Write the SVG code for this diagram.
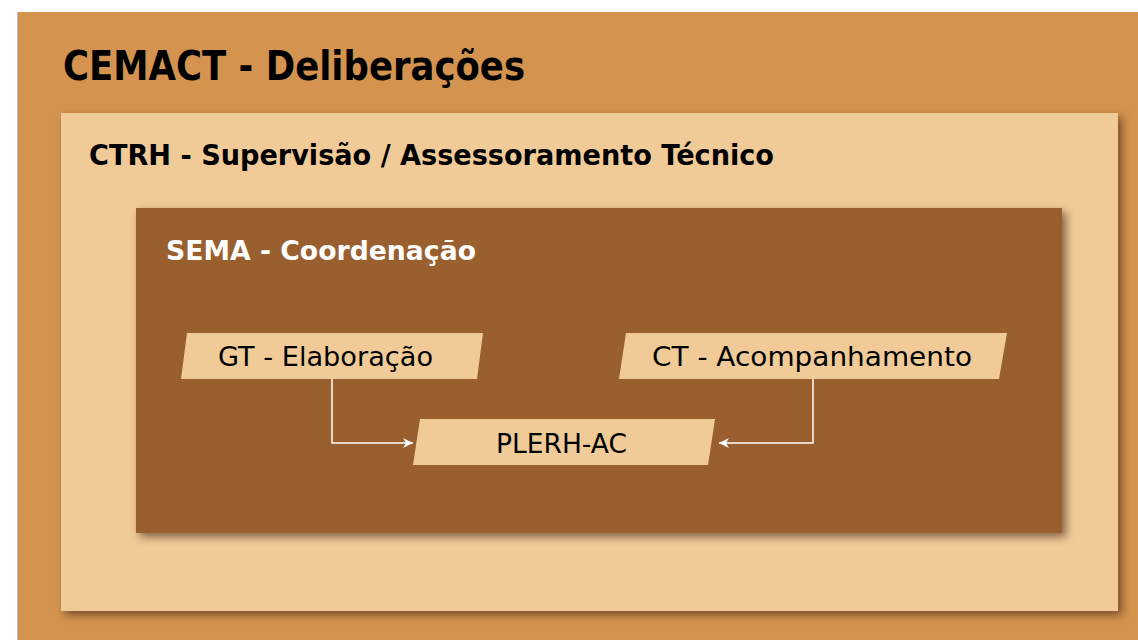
<svg xmlns="http://www.w3.org/2000/svg" width="1138" height="640" viewBox="0 0 1138 640">
  <defs>
    <filter id="sh" x="-10%" y="-10%" width="125%" height="125%">
      <feDropShadow dx="4" dy="4" stdDeviation="4" flood-color="#3a2008" flood-opacity="0.6"/>
    </filter>
    <marker id="arr" viewBox="0 0 10 10" refX="10" refY="5" markerWidth="10" markerHeight="10" markerUnits="userSpaceOnUse" orient="auto">
      <path d="M0,0 L10,5 L0,10 L3,5 Z" fill="#ffffff"/>
    </marker>
    <style>
      .title { font-family: "DejaVu Sans", "Open Sans", sans-serif; font-weight: bold; fill: #000000; }
      .sema { font-family: "DejaVu Sans", "Open Sans", sans-serif; font-weight: bold; fill: #ffffff; }
      .lbl { font-family: "DejaVu Sans", "Open Sans", sans-serif; font-size: 26px; fill: #000000; }
      .para { fill: #F0CB98; }
      .conn { fill: none; stroke: #ffffff; stroke-width: 1.5; }
    </style>
  </defs>
  <rect x="0" y="0" width="1138" height="640" fill="#ffffff"/>
  <g id="cemact">
    <rect x="17" y="12" width="1121" height="628" fill="#D4944F"/>
    <line x1="17.5" y1="12" x2="17.5" y2="640" stroke="#b8b8c8" stroke-width="1"/>
    <text class="title" x="63" y="80" font-size="41" textLength="462" lengthAdjust="spacingAndGlyphs">CEMACT - Deliberações</text>
  </g>
  <g id="ctrh">
    <rect x="61" y="113" width="1057" height="498" fill="#F0CB98" filter="url(#sh)"/>
    <text class="title" x="89" y="165" font-size="27.5" textLength="685" lengthAdjust="spacingAndGlyphs">CTRH - Supervisão / Assessoramento Técnico</text>
  </g>
  <g id="sema">
    <rect x="136" y="208" width="926" height="325" fill="#9A5E2E" filter="url(#sh)"/>
    <text class="sema" x="166" y="260" font-size="27" textLength="310" lengthAdjust="spacingAndGlyphs">SEMA - Coordenação</text>
  </g>
  <g id="gt">
    <polygon class="para" points="187,333 483,333 477,379 181,379"/>
    <text class="lbl" x="218" y="366" textLength="215" lengthAdjust="spacingAndGlyphs">GT - Elaboração</text>
  </g>
  <g id="ct">
    <polygon class="para" points="626,333 1007,333 999,379 619,379"/>
    <text class="lbl" x="652" y="366" textLength="320" lengthAdjust="spacingAndGlyphs">CT - Acompanhamento</text>
  </g>
  <g id="plerh">
    <polygon class="para" points="420,419 715,419 708,465 413,465"/>
    <text class="lbl" x="496" y="453" textLength="131" lengthAdjust="spacingAndGlyphs">PLERH-AC</text>
  </g>
  <g id="connectors">
    <polyline class="conn" points="332,379 332,443 413,443" marker-end="url(#arr)"/>
    <polyline class="conn" points="813,379 813,443 719,443" marker-end="url(#arr)"/>
  </g>
</svg>
